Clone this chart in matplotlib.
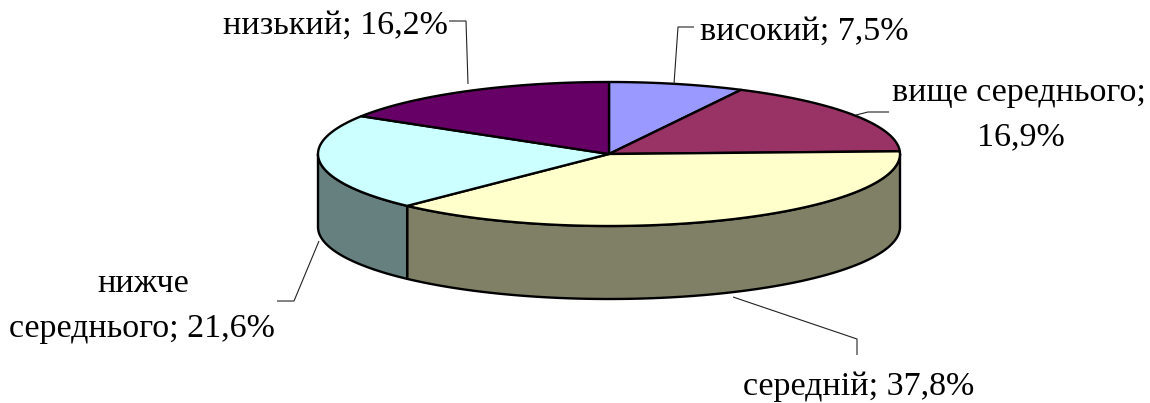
import numpy as np
import matplotlib
matplotlib.use("Agg")
import matplotlib.pyplot as plt
from matplotlib.patches import Polygon

plt.rcParams['font.family'] = ['Liberation Serif', 'DejaVu Serif']

categories = ["високий", "вище середнього", "середній", "нижче середнього", "низький"]
values = [7.5, 16.9, 37.8, 21.6, 16.2]
top_colors = ["#9999FF", "#993366", "#FFFFCC", "#CCFFFF", "#660066"]
side_colors = ["#66667F", "#662244", "#808066", "#668080", "#330033"]

CX, CY, RX, RY, DEPTH = 609, 154, 291, 72, 73

fig = plt.figure(figsize=(11.5, 4.03), dpi=100)
ax = fig.add_axes([0, 0, 1, 1])
ax.set_xlim(0, 1150)
ax.set_ylim(403, 0)
ax.axis('off')

def pt(theta):
    return CX + RX * np.sin(theta), CY - RY * np.cos(theta)

edges = np.deg2rad(np.concatenate([[0], np.cumsum(values)]) * 3.6)

# side walls
for i in range(len(values)):
    a, b = max(edges[i], np.pi / 2), min(edges[i + 1], 3 * np.pi / 2)
    if b <= a:
        continue
    t = np.linspace(a, b, 200)
    x, y = pt(t)
    poly = np.column_stack([np.r_[x, x[::-1]], np.r_[y, y[::-1] + DEPTH]])
    ax.add_patch(Polygon(poly, closed=True, fc=side_colors[i], ec='black', lw=1.7, joinstyle='round'))

# top faces
for i in range(len(values)):
    t = np.linspace(edges[i], edges[i + 1], 200)
    x, y = pt(t)
    poly = np.column_stack([np.r_[CX, x], np.r_[CY, y]])
    ax.add_patch(Polygon(poly, closed=True, fc=top_colors[i], ec='black', lw=1.7, joinstyle='round'))

def lead(xs, ys):
    ax.plot(xs, ys, color='#222222', lw=0.8, solid_capstyle='butt')

lead([674, 678, 694], [84, 27, 27])
lead([856, 868, 889], [115, 112, 112])
lead([733, 857, 857], [297, 339, 355])
lead([319, 294, 277], [241, 301, 301])
lead([468, 466, 449], [84, 21, 21])

def fmt(v):
    return f"{v:.1f}".replace('.', ',') + "%"

FS = 24.5
def label(x, y, s, ha='center'):
    ax.text(x, y, s, fontsize=FS, ha=ha, va='center', color='black')

label(804, 32, f"{categories[0]}; {fmt(values[0])}")
label(1019, 93, "вище середнього;")
label(1021, 137, fmt(values[1]))
label(859, 387, f"{categories[2]}; {fmt(values[2])}")
label(143, 284, "нижче")
label(142, 329, f"середнього; {fmt(values[3])}")
label(335, 26, f"{categories[4]}; {fmt(values[4])}")

fig.savefig("out.png", dpi=100, facecolor='white')
